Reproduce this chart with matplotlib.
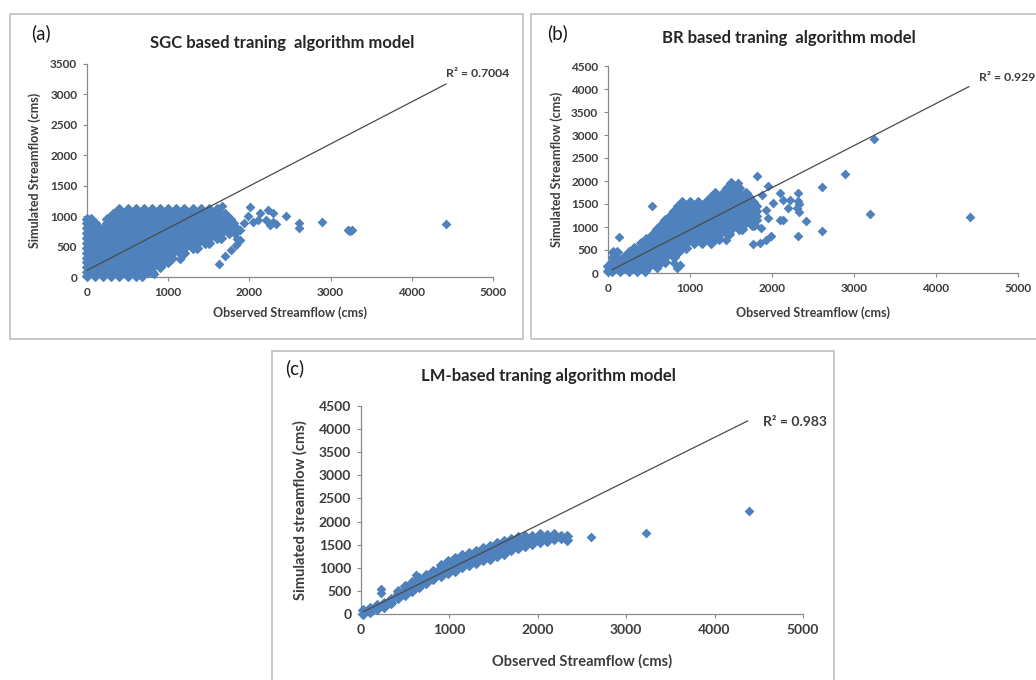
import matplotlib
matplotlib.use("Agg")
import matplotlib.pyplot as plt
from matplotlib.patches import Rectangle

# ---------------- data ----------------
# Panel (a): SGC -- dense cloud as rows (simulated value -> observed values)
a_cloud_y = [1120, 1040, 960, 880, 800, 720, 640, 560, 480, 400, 320, 240, 160, 80, 20]
a_cloud_x = [
    [400, 500, 600, 700, 800, 900, 1000, 1100, 1200, 1300, 1400, 1500, 1600],
    [320, 350, 450, 550, 650, 750, 850, 950, 1050, 1150, 1250, 1350, 1450, 1550, 1650, 1700],
    [0, 50, 250, 300, 400, 500, 600, 700, 800, 900, 1000, 1100, 1200, 1300, 1400, 1500, 1600, 1700, 1760],
    [0, 100, 250, 350, 450, 550, 650, 750, 850, 950, 1050, 1150, 1250, 1350, 1450, 1550, 1650, 1750, 1800],
    [0, 80, 150, 200, 300, 400, 500, 600, 700, 800, 900, 1000, 1100, 1200, 1300, 1400, 1500, 1600, 1700, 1800, 1830],
    [0, 50, 150, 250, 350, 450, 550, 650, 750, 850, 950, 1050, 1150, 1250, 1350, 1450, 1550, 1650, 1750, 1820],
    [0, 100, 200, 300, 400, 500, 600, 700, 800, 900, 1000, 1100, 1200, 1300, 1400, 1500, 1600, 1650],
    [0, 50, 150, 250, 350, 450, 550, 650, 750, 850, 950, 1050, 1150, 1250, 1350, 1450, 1500],
    [0, 100, 200, 300, 400, 500, 600, 700, 800, 900, 1000, 1100, 1200, 1300, 1350],
    [0, 50, 150, 250, 350, 450, 550, 650, 750, 850, 950, 1050, 1150, 1200],
    [0, 100, 200, 300, 400, 500, 600, 700, 800, 900, 1000, 1050],
    [0, 50, 150, 250, 350, 450, 550, 650, 750, 850, 950, 1000],
    [0, 100, 200, 300, 400, 500, 600, 700, 800, 900],
    [0, 50, 150, 250, 350, 450, 550, 650, 750, 800],
    [0, 100, 200, 300, 400, 500, 600, 680],
]
a_out_x = [2010, 2130, 2230, 2290, 2110, 2210, 2290, 2330, 2250, 1930, 1980, 2050,
           1880, 2445, 2608, 2608, 2895, 3210, 3240, 3265, 4427, 1660, 1845, 1770,
           1830, 1890, 1695, 1622, 1150, 829]
a_out_y = [1150, 1050, 1100, 1050, 940, 940, 910, 870, 860, 880, 1000, 900,
           780, 1006, 880, 800, 900, 765, 760, 765, 875, 1170, 628, 450,
           530, 600, 346, 214, 300, 57]
a_fit_x = [0, 4420]
a_fit_y = [110, 3170]

# Panel (b): BR
b_cloud_y = [1950, 1850, 1750, 1650, 1550, 1450, 1350, 1250, 1150, 1050, 950, 850, 750, 650, 550, 450, 350, 250, 150, 50]
b_cloud_x = [
    [1500],
    [1450, 1550, 1600],
    [1300, 1400, 1500, 1600, 1680],
    [1250, 1350, 1450, 1550, 1650, 1720],
    [900, 1000, 1100, 1200, 1300, 1400, 1500, 1600, 1700, 1770],
    [850, 950, 1050, 1150, 1250, 1350, 1450, 1550, 1650, 1750, 1810],
    [800, 900, 1000, 1100, 1200, 1300, 1400, 1500, 1600, 1700, 1800],
    [750, 850, 950, 1050, 1150, 1250, 1350, 1450, 1550, 1650, 1750, 1810],
    [700, 800, 900, 1000, 1100, 1200, 1300, 1400, 1500, 1600, 1700, 1800],
    [650, 750, 850, 950, 1050, 1150, 1250, 1350, 1450, 1550, 1650, 1750, 1780],
    [600, 700, 800, 900, 1000, 1100, 1200, 1300, 1400, 1500, 1600, 1640],
    [550, 650, 750, 850, 950, 1050, 1150, 1250, 1350, 1450, 1480],
    [460, 500, 600, 700, 800, 900, 1000, 1100, 1200, 1300, 1350],
    [400, 450, 550, 650, 750, 850, 950, 1050, 1150, 1250],
    [320, 400, 500, 600, 700, 800, 900, 950],
    [60, 110, 250, 350, 450, 550, 650, 750, 850],
    [60, 100, 200, 300, 400, 500, 600, 700, 800],
    [50, 150, 250, 350, 450, 550, 650, 700],
    [0, 100, 200, 300, 400, 500],
    [0, 50, 150, 250, 350, 450],
]
b_out_x = [133, 537, 598, 800, 880, 840, 1590, 1811, 1952, 1873, 2094, 2134, 2215,
           2316, 2316, 2300, 2195, 2094, 2134, 1952, 1871, 1992, 1931, 1850, 1770,
           2316, 2418, 1931, 2012, 2611, 2893, 3245, 3193, 4417, 2611, 2335, 2335,
           1445, 900]
b_out_y = [781, 1446, 108, 217, 180, 108, 1967, 2112, 1895, 1700, 1737, 1591, 1591,
           1750, 1555, 1410, 1411, 1157, 1157, 1194, 977, 795, 723, 651, 620,
           795, 1120, 1375, 1520, 1880, 2156, 2910, 1281, 1216, 918, 1505, 1320,
           724, 1550]
b_fit_x = [50, 4400]
b_fit_y = [70, 4050]

# Panel (c): LM -- band as columns (observed value -> simulated values)
c_band_x = [20, 100, 180, 260, 340, 420, 500, 580, 660, 740, 820, 900, 980, 1060, 1140,
            1220, 1300, 1380, 1460, 1540, 1620, 1700, 1780, 1860, 1940, 2020, 2100, 2180,
            2260, 2330]
c_band_y = [
    [10, 90], [40, 130], [100, 190], [150, 240], [240, 330],
    [340, 430, 500], [420, 510, 600], [500, 600, 690], [580, 680, 770], [670, 760, 850],
    [760, 850, 930], [820, 910, 1000, 1060], [880, 970, 1060, 1150], [940, 1030, 1120, 1210],
    [1010, 1100, 1190, 1270], [1070, 1160, 1250, 1320], [1110, 1200, 1290, 1370],
    [1160, 1250, 1340, 1430], [1200, 1290, 1380, 1480], [1250, 1340, 1430, 1530],
    [1300, 1390, 1480, 1580], [1380, 1470, 1560, 1620], [1430, 1520, 1600, 1660],
    [1480, 1570, 1650, 1690], [1510, 1600, 1690], [1550, 1630, 1720], [1590, 1660, 1710],
    [1620, 1680, 1720], [1640, 1690], [1610, 1690],
]
c_out_x = [231, 231, 627, 2597, 3219, 4389]
c_out_y = [450, 540, 844, 1660, 1747, 2229]
c_fit_x = [28, 4374]
c_fit_y = [50, 4177]

titles = ["SGC based traning  algorithm model",
          "BR based traning  algorithm model",
          "LM-based traning algorithm model"]
letters = ["(a)", "(b)", "(c)"]
r2_texts = ["R\u00b2 = 0.7004", "R\u00b2 = 0.929", "R\u00b2 = 0.983"]
ylabels = ["Simulated Streamflow (cms)", "Simulated Streamflow (cms)",
           "Simulated streamflow (cms)"]
xlabel = "Observed Streamflow (cms)"
x_ticks = [0, 1000, 2000, 3000, 4000, 5000]
y_ticks_a = [0, 500, 1000, 1500, 2000, 2500, 3000, 3500]
y_ticks_bc = [0, 500, 1000, 1500, 2000, 2500, 3000, 3500, 4000, 4500]

# ---------------- drawing ----------------
W, H = 1036, 680
plt.rcParams['font.family'] = ['Lato', 'DejaVu Sans']
fig = plt.figure(figsize=(W / 100, H / 100), dpi=100)
fig.patch.set_facecolor('white')

BLUE = '#4F81BD'
TXT = '#3c3c3c'
AXC = '#8a8a8a'
# diamond marker whose tip-to-tip size equals sqrt(s) points
DIAMOND = [(0, 1), (1, 0), (0, -1), (-1, 0), (0, 1)]
MS = 50


def fx(px):
    return px / W


def fy(py):
    return 1 - py / H


def box(x0, y0, x1, y1):
    fig.add_artist(Rectangle((fx(x0), fy(y1)), (x1 - x0) / W, (y1 - y0) / H,
                             transform=fig.transFigure, fill=False,
                             ec='#c4c4c4', lw=1.3))


box(10, 14, 523, 339)
box(531, 14, 1045, 339)
box(272, 351, 834, 700)


def make_axes(l, t, r, b):
    return fig.add_axes([fx(l), fy(b), (r - l) / W, (b - t) / H])


def flatten_rows(rows_y, rows_x):
    xs, ys = [], []
    for yv, xr in zip(rows_y, rows_x):
        for xv in xr:
            xs.append(xv)
            ys.append(yv)
    return xs, ys


def flatten_cols(cols_x, cols_y):
    xs, ys = [], []
    for xv, yr in zip(cols_x, cols_y):
        for yv in yr:
            xs.append(xv)
            ys.append(yv)
    return xs, ys


def style(ax, ymax, yticks, fs):
    ax.set_xlim(0, 5000)
    ax.set_ylim(0, ymax)
    ax.set_xticks(x_ticks)
    ax.set_yticks(yticks)
    for s in ['top', 'right']:
        ax.spines[s].set_visible(False)
    for s in ['left', 'bottom']:
        ax.spines[s].set_color(AXC)
        ax.spines[s].set_linewidth(0.9)
    ax.tick_params(direction='out', length=3, width=0.8, color=AXC,
                   labelsize=fs, labelcolor=TXT, pad=4)
    for lab in ax.get_xticklabels() + ax.get_yticklabels():
        lab.set_fontweight('bold')
    ax.set_facecolor('none')


panels = [
    dict(rect=(87, 64, 493, 277), ymax=3500, yt=y_ticks_a, fs=8.5,
         pts=flatten_rows(a_cloud_y, a_cloud_x), ox=a_out_x, oy=a_out_y,
         fit=(a_fit_x, a_fit_y), r2pos=(4420, 3340), r2fs=8.8,
         title_xy=(282, 43), tfs=12, let_xy=(41, 33),
         ylab_x=35, xlab_y=313, lfs=9),
    dict(rect=(608, 66, 1018, 273), ymax=4500, yt=y_ticks_bc, fs=8.5,
         pts=flatten_rows(b_cloud_y, b_cloud_x), ox=b_out_x, oy=b_out_y,
         fit=(b_fit_x, b_fit_y), r2pos=(4530, 4260), r2fs=8.8,
         title_xy=(789, 38), tfs=12, let_xy=(558, 33),
         ylab_x=557, xlab_y=313, lfs=9),
    dict(rect=(361, 406, 803, 614), ymax=4500, yt=y_ticks_bc, fs=10,
         pts=flatten_cols(c_band_x, c_band_y), ox=c_out_x, oy=c_out_y,
         fit=(c_fit_x, c_fit_y), r2pos=(4550, 4156), r2fs=10,
         title_xy=(548, 376), tfs=12, let_xy=(295, 368),
         ylab_x=300, xlab_y=661, lfs=10.5),
]

for i, p in enumerate(panels):
    l, t, r, b = p['rect']
    ax = make_axes(l, t, r, b)
    style(ax, p['ymax'], p['yt'], p['fs'])
    xs, ys = p['pts']
    ax.scatter(xs, ys, marker=DIAMOND, s=MS, c=BLUE, edgecolors=BLUE,
               linewidths=0.9, clip_on=False, zorder=3)
    ax.scatter(p['ox'], p['oy'], marker=DIAMOND, s=MS, c=BLUE, linewidths=0,
               clip_on=False, zorder=3)
    fxs, fys = p['fit']
    ax.plot(fxs, fys, color='#4a4a4a', lw=0.9, clip_on=False, zorder=4)
    ax.text(p['r2pos'][0], p['r2pos'][1], r2_texts[i], fontsize=p['r2fs'],
            fontweight='bold', color=TXT, ha='left', va='center', clip_on=False)
    fig.text(fx(p['title_xy'][0]), fy(p['title_xy'][1]), titles[i], fontsize=p['tfs'],
             fontweight='bold', color='#262626', ha='center', va='center')
    fig.text(fx(p['let_xy'][0]), fy(p['let_xy'][1]), letters[i], fontsize=13.5,
             color='#1a1a1a', ha='center', va='center')
    fig.text(fx(p['ylab_x']), fy((t + b) / 2), ylabels[i], rotation=90,
             fontsize=p['lfs'], fontweight='bold', color=TXT, ha='center', va='center')
    fig.text(fx((l + r) / 2), fy(p['xlab_y']), xlabel, fontsize=p['lfs'],
             fontweight='bold', color=TXT, ha='center', va='center')

fig.savefig('out.png', dpi=100, facecolor='white')
